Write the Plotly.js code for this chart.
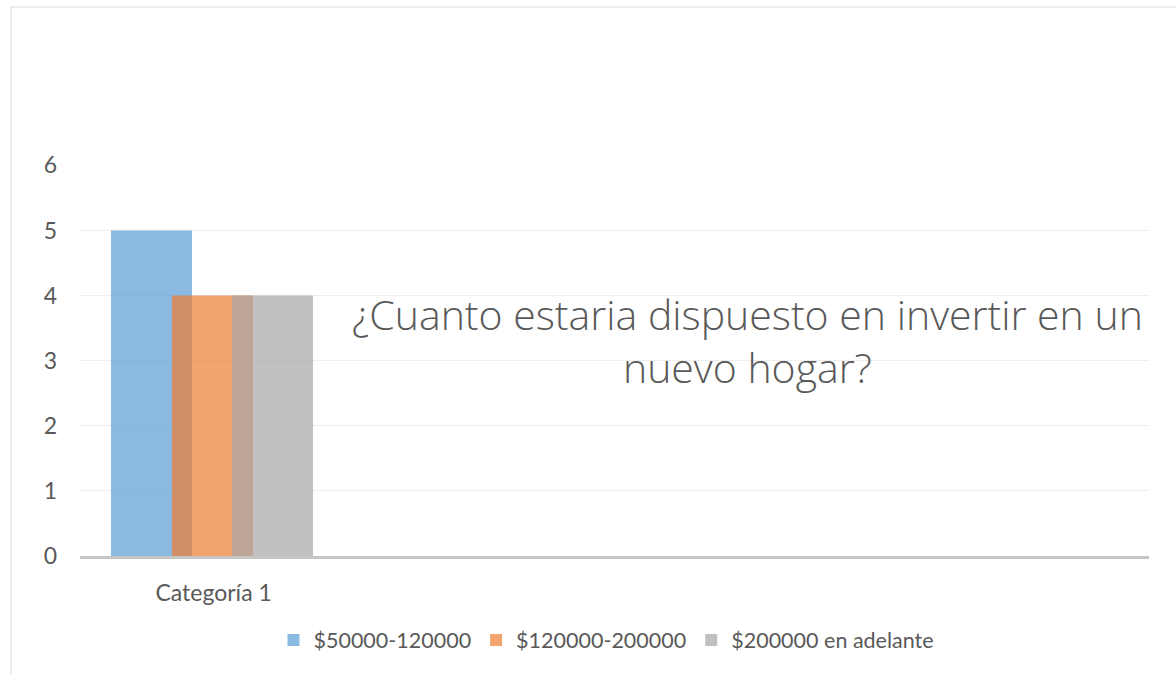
<!DOCTYPE html>
<html>
<head>
<meta charset="utf-8">
<script src="https://cdn.plot.ly/plotly-3.0.1.min.js"></script>
<style>
  html, body { margin: 0; padding: 0; background: #fff; }
  #chart { width: 1176px; height: 674px; }
</style>
</head>
<body>
<div id="chart"></div>
<script>
const categories = ['Categoría 1'];
const seriesNames = ['$50000-120000', '$120000-200000', '$200000 en adelante'];
const valuesLow = [5];
const valuesMid = [4];
const valuesHigh = [4];
const titleText = '¿Cuanto estaria dispuesto en invertir en un<br>nuevo hogar?';

const colors = ['rgba(91,155,213,0.7)', 'rgba(237,125,49,0.7)', 'rgba(165,165,165,0.7)'];
const allValues = [valuesLow, valuesMid, valuesHigh];
const barWidth = 0.303;
const offsets = [-0.384, -0.156, 0.069];

const traces = allValues.map((vals, i) => ({
  type: 'bar',
  name: seriesNames[i],
  x: categories,
  y: vals,
  width: barWidth,
  offset: offsets[i],
  marker: { color: colors[i], line: { width: 0 } },
  hoverinfo: 'name+y'
}));

const textColor = '#595959';
const tickFont = { family: 'Lato, "Open Sans", sans-serif', size: 23, color: textColor };
const legendFont = { family: 'Lato, "Open Sans", sans-serif', size: 21.5, color: textColor };

const layout = {
  width: 1176,
  height: 674,
  margin: { l: 80, r: 27, t: 165, b: 118 },
  paper_bgcolor: '#ffffff',
  plot_bgcolor: '#ffffff',
  barmode: 'overlay',
  font: tickFont,
  showlegend: true,
  legend: {
    orientation: 'h',
    x: 0.4925, xanchor: 'center',
    y: -0.215, yanchor: 'middle',
    font: legendFont,
    traceorder: 'normal'
  },
  xaxis: {
    type: 'category',
    range: [-0.5, 3.5],
    showgrid: false,
    zeroline: false,
    showline: true,
    linecolor: '#c6c6c6',
    linewidth: 3,
    ticks: '',
    ticklabelstandoff: 14,
    tickfont: tickFont,
    fixedrange: true
  },
  yaxis: {
    range: [0, 6.005],
    dtick: 1,
    tick0: 0,
    showgrid: true,
    gridcolor: '#eeeeee',
    gridwidth: 1,
    zeroline: false,
    showline: false,
    ticks: '',
    ticklabelstandoff: 22,
    tickfont: tickFont,
    fixedrange: true
  },
  annotations: [
    {
      text: titleText, xref: 'paper', yref: 'paper',
      x: 0.624, y: 0.552, xanchor: 'center', yanchor: 'middle', showarrow: false,
      align: 'center',
      font: { family: '"Open Sans", Lato, sans-serif', weight: 300, size: 41, color: textColor }
    }
  ],
  shapes: [
    {
      type: 'rect', xref: 'paper', yref: 'paper',
      x0: (11 - 80) / 1069, x1: 1.2, y0: -0.6, y1: (556 - 7) / 391,
      line: { color: '#d9d9d9', width: 1 }, fillcolor: 'rgba(0,0,0,0)', layer: 'below'
    }
  ]
};

Plotly.newPlot('chart', traces, layout, { displayModeBar: false, staticPlot: true });
</script>
</body>
</html>
